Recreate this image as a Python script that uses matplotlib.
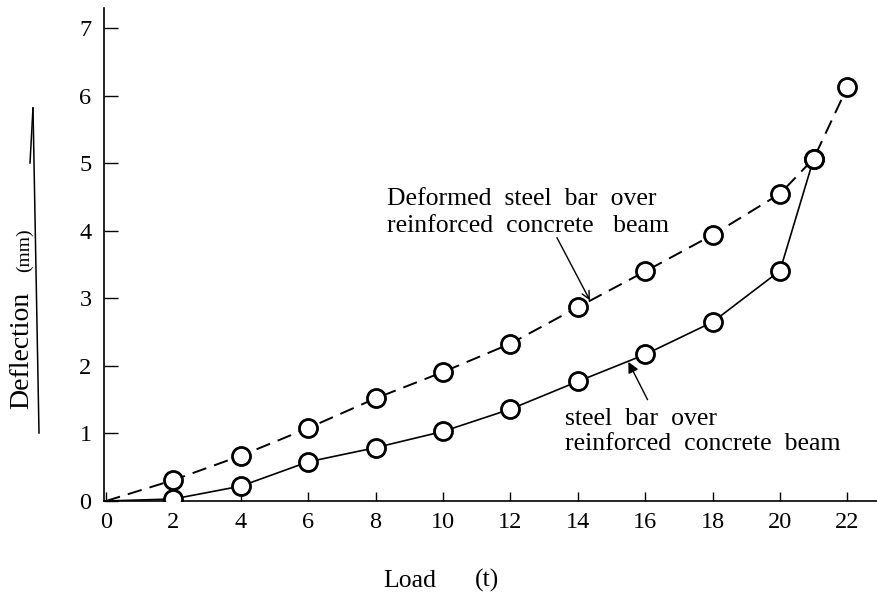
import matplotlib
matplotlib.use("Agg")
import matplotlib.pyplot as plt
from matplotlib.lines import Line2D

# Data
load = [0, 2, 4, 6, 8, 10, 12, 14, 16, 18, 20, 21, 22]
deformed = [0, 0.31, 0.67, 1.08, 1.52, 1.91, 2.33, 2.87, 3.40, 3.94, 4.55, 5.07, 6.13]
load_plain = [0, 2, 4, 6, 8, 10, 12, 14, 16, 18, 20, 21]
plain = [0, 0.03, 0.22, 0.58, 0.79, 1.03, 1.36, 1.77, 2.17, 2.65, 3.41, 5.07]
xticks = list(range(0, 23, 2))
yticks = list(range(0, 8))

plt.rcParams['font.family'] = ['Liberation Serif', 'DejaVu Serif']

fig = plt.figure(figsize=(8.77, 5.93), dpi=100)
W, H = 877, 593
x0px, y0px = 104, 501
ax = fig.add_axes([x0px / W, (H - y0px) / H, 1 - x0px / W, (y0px - 8) / H])

xmax = (877 - 106) / 33.7
ax.set_xlim(-0.06, xmax)
ax.set_ylim(0, 7.3)

mk = dict(marker='o', markersize=13, markerfacecolor='white',
          markeredgecolor='black', markeredgewidth=2.0, color='black')
ax.plot(load, deformed, linestyle=(0, (7.5, 4.2)), lw=1.4,
        markevery=list(range(1, len(load))), **mk, zorder=3)
ax.plot(load_plain, plain, linestyle='-', lw=1.2,
        markevery=list(range(1, len(load_plain))), **mk, zorder=3)

for s in ['top', 'right']:
    ax.spines[s].set_visible(False)
for s in ['left', 'bottom']:
    ax.spines[s].set_linewidth(1.2)

ax.set_xticks(xticks)
ax.set_yticks(yticks)
ax.tick_params(axis='x', direction='in', length=6.5, width=1.0, pad=8, labelsize=17.5)
ax.tick_params(axis='y', direction='in', length=10, width=1.0, pad=9, labelsize=17.5)

# annotations
fs = 18.5
ax.text(8.34, 4.39, "Deformed  steel  bar  over", fontsize=fs, va='baseline', ha='left')
ax.text(8.34, 3.98, "reinforced  concrete   beam", fontsize=fs, va='baseline', ha='left')
ax.text(13.62, 1.12, "steel  bar  over", fontsize=fs, va='baseline', ha='left')
ax.text(13.62, 0.75, "reinforced  concrete  beam", fontsize=fs, va='baseline', ha='left')

ax.annotate('', xy=(14.36, 2.97), xytext=(13.38, 3.90),
            arrowprops=dict(arrowstyle='->', lw=1.0, color='black',
                            mutation_scale=14, shrinkA=0, shrinkB=0))
ax.annotate('', xy=(15.5, 2.06), xytext=(16.07, 1.50),
            arrowprops=dict(arrowstyle='-|>', lw=1.0, color='black',
                            mutation_scale=16, shrinkA=0, shrinkB=0))

# axis labels
fig.text(383 / W, (H - 587) / H, "Load", fontsize=18.5, ha='left', va='baseline')
fig.text(475 / W, (H - 587) / H, "(t)", fontsize=18.5, ha='left', va='baseline')
fig.text(34 / W, (H - 350) / H, "Deflection", fontsize=20, rotation=90,
         ha='right', va='center')
fig.text(33 / W, (H - 250) / H, "(mm)", fontsize=14, rotation=90,
         ha='right', va='center')

# arrow line beside y label
fig.add_artist(Line2D([39 / W, 33 / W], [(H - 433) / H, (H - 108) / H],
                      color='black', lw=1.1))
fig.add_artist(Line2D([33 / W, 30 / W], [(H - 108) / H, (H - 163) / H],
                      color='black', lw=1.1))

fig.savefig("out.png", dpi=100, facecolor='white')
